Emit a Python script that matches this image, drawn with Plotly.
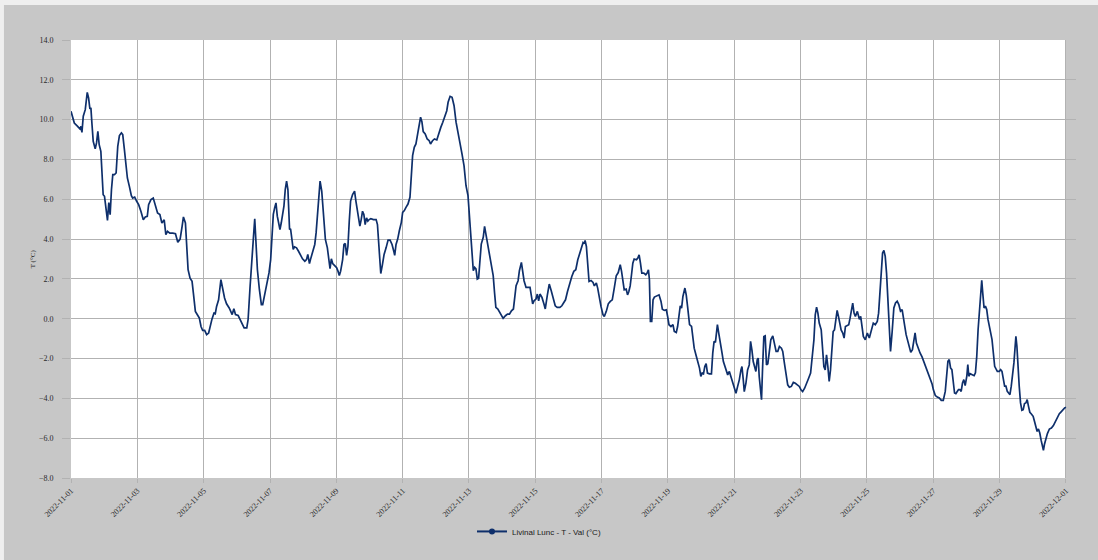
import pandas as pd
import plotly.graph_objects as go

# Hourly-ish temperature record, Livinal Lunc station, November 2022
start = pd.Timestamp("2022-11-01")

# time since start, in days
day_offset = [
    0.00, 0.10, 0.20, 0.27, 0.30, 0.33, 0.37, 0.43, 0.49, 0.53, 0.57, 0.60, 0.63, 0.67, 0.73, 0.77,
    0.81, 0.85, 0.90, 0.93, 0.97, 1.01, 1.06, 1.10, 1.14, 1.18, 1.22, 1.26, 1.31, 1.36, 1.41, 1.46,
    1.52, 1.56, 1.61, 1.66, 1.70, 1.76, 1.82, 1.86, 1.92, 1.98, 2.04, 2.11, 2.18, 2.24, 2.30, 2.34,
    2.41, 2.48, 2.54, 2.61, 2.68, 2.74, 2.81, 2.86, 2.91, 2.98, 3.07, 3.15, 3.22, 3.29, 3.35, 3.39,
    3.45, 3.49, 3.53, 3.59, 3.65, 3.69, 3.75, 3.81, 3.87, 3.92, 3.97, 4.03, 4.09, 4.15, 4.19, 4.25,
    4.31, 4.35, 4.39, 4.45, 4.52, 4.57, 4.63, 4.69, 4.77,
    4.86, 4.91, 4.96, 5.04, 5.10, 5.17, 5.22, 5.30, 5.34, 5.40, 5.46, 5.50, 5.54, 5.58, 5.62, 5.68,
    5.74, 5.78, 5.84, 5.90, 5.97, 6.02, 6.06, 6.10, 6.14, 6.18, 6.22, 6.26, 6.30, 6.34, 6.38, 6.42,
    6.46, 6.50, 6.54, 6.59, 6.62, 6.66, 6.70, 6.74, 6.80, 6.86, 6.92, 6.98, 7.05, 7.10, 7.14, 7.19,
    7.22, 7.29, 7.35, 7.39, 7.43, 7.47, 7.51, 7.56, 7.61, 7.67, 7.73, 7.78, 7.81, 7.85, 7.89, 7.95,
    8.01, 8.05, 8.09, 8.13, 8.19, 8.23, 8.27, 8.31, 8.35, 8.39, 8.43, 8.49, 8.55, 8.59, 8.63, 8.67,
    8.71, 8.75, 8.79, 8.83, 8.87, 8.91, 8.95, 8.99, 9.04, 9.12, 9.20, 9.24, 9.28, 9.32, 9.34, 9.39,
    9.44, 9.50, 9.56, 9.62, 9.68, 9.74, 9.76, 9.80,
    9.85, 9.90, 9.96, 10.00, 10.05, 10.10, 10.16, 10.22, 10.26, 10.30, 10.35, 10.40, 10.46, 10.50,
    10.54, 10.58, 10.62, 10.68, 10.74, 10.80, 10.84, 10.90, 10.96, 11.03, 11.09, 11.15, 11.21, 11.27,
    11.33, 11.37, 11.43, 11.49, 11.55, 11.61, 11.67, 11.73, 11.79, 11.85, 11.91, 11.97, 12.01, 12.05,
    12.09, 12.13, 12.17, 12.21, 12.25, 12.29, 12.33, 12.37, 12.43, 12.47, 12.51, 12.57, 12.63, 12.69,
    12.73, 12.77, 12.81, 12.87, 12.93, 12.99, 13.03, 13.10, 13.16, 13.22, 13.28, 13.34, 13.38, 13.42,
    13.48, 13.52, 13.58, 13.62, 13.66, 13.72, 13.78, 13.84, 13.88, 13.92, 13.96, 14.02, 14.06, 14.10,
    14.14, 14.20, 14.26, 14.30, 14.36, 14.42, 14.48, 14.54, 14.60, 14.66, 14.74, 14.80,
    14.91, 14.97, 15.03, 15.10, 15.16, 15.22, 15.28, 15.34, 15.40, 15.44, 15.48, 15.50, 15.54, 15.58,
    15.62, 15.68, 15.74, 15.78, 15.84, 15.88, 15.92, 15.98, 16.04, 16.08, 16.14, 16.20, 16.26, 16.32,
    16.38, 16.44, 16.50, 16.56, 16.60, 16.64, 16.68, 16.74, 16.78, 16.82, 16.86, 16.90, 16.94, 16.98,
    17.05, 17.09, 17.13, 17.17, 17.21, 17.27, 17.33, 17.37, 17.41, 17.44, 17.45, 17.47, 17.51, 17.55,
    17.59, 17.65, 17.73, 17.79, 17.83, 17.89, 17.95, 17.99, 18.03, 18.09, 18.15, 18.19, 18.25, 18.29,
    18.33, 18.37, 18.41, 18.45, 18.51, 18.55, 18.59, 18.65, 18.71, 18.75, 18.79, 18.85, 18.91, 18.95,
    18.99, 19.03, 19.07, 19.11, 19.15, 19.19, 19.25, 19.31, 19.35, 19.39, 19.43, 19.47, 19.49, 19.53,
    19.57, 19.63, 19.67, 19.71,
    19.75, 19.80, 19.85, 19.90, 19.95, 20.00, 20.05, 20.10, 20.15, 20.20, 20.23, 20.27, 20.30, 20.35,
    20.40, 20.45, 20.49, 20.53, 20.57, 20.61, 20.65, 20.69, 20.72, 20.75, 20.79, 20.82, 20.85, 20.89,
    20.93, 20.97, 21.01, 21.06, 21.10, 21.16, 21.21, 21.26, 21.31, 21.36, 21.42, 21.46, 21.51, 21.56,
    21.61, 21.66, 21.72, 21.78, 21.84, 21.90, 21.96, 22.01, 22.06, 22.12, 22.18, 22.24, 22.30, 22.36,
    22.40, 22.44, 22.48, 22.52, 22.56, 22.62, 22.66, 22.70, 22.74, 22.78, 22.82, 22.86, 22.90, 22.94,
    22.98, 23.02, 23.06, 23.10, 23.14, 23.18, 23.22, 23.27, 23.31, 23.35, 23.39, 23.45, 23.49, 23.53,
    23.57, 23.61, 23.65, 23.71, 23.77, 23.81, 23.85, 23.89, 23.95, 24.01, 24.07, 24.13, 24.19, 24.25,
    24.31, 24.35, 24.39, 24.43, 24.47, 24.51, 24.55, 24.59, 24.63, 24.67, 24.71,
    24.76, 24.81, 24.86, 24.91, 24.96, 25.01, 25.06, 25.10, 25.14, 25.18, 25.22, 25.27, 25.32, 25.37,
    25.42, 25.45, 25.49, 25.54, 25.60, 25.66, 25.72, 25.78, 25.84, 25.90, 25.96, 26.00, 26.06, 26.12,
    26.18, 26.24, 26.30, 26.36, 26.40, 26.44, 26.48, 26.52, 26.56, 26.60, 26.64, 26.68, 26.72, 26.76,
    26.80, 26.84, 26.88, 26.92, 26.96, 27.01, 27.04, 27.07, 27.11, 27.17, 27.23, 27.27, 27.31, 27.35,
    27.39, 27.43, 27.46, 27.49, 27.53, 27.57, 27.61, 27.65, 27.69, 27.73, 27.77, 27.81, 27.85, 27.89,
    27.93, 27.99, 28.03, 28.07, 28.11, 28.15, 28.19, 28.23, 28.27, 28.31, 28.35, 28.39, 28.43, 28.46,
    28.49, 28.52, 28.55, 28.59, 28.63, 28.67, 28.71, 28.75, 28.79, 28.83, 28.87, 28.91, 28.95, 29.01,
    29.05, 29.09, 29.13, 29.17, 29.21, 29.25, 29.29, 29.32, 29.35, 29.40, 29.44, 29.50, 29.56, 29.62,
    29.68, 29.74, 29.80, 29.84, 29.90, 29.96, 30.00,
]

# air temperature, degrees Celsius
temp_c = [
    10.42, 9.83, 9.66, 9.53, 9.66, 9.36, 10.17, 10.50, 11.37, 11.09, 10.54, 10.59, 9.83, 8.91, 8.53, 8.83,
    9.41, 8.74, 8.41, 7.32, 6.23, 6.15, 5.56, 4.94, 5.83, 5.23, 6.48, 7.24, 7.24, 7.32, 8.66, 9.20,
    9.33, 9.25, 8.49, 7.65, 7.07, 6.65, 6.18, 6.06, 6.11, 5.90, 5.73, 5.39, 4.97, 5.11, 5.14, 5.73,
    5.98, 6.06, 5.73, 5.31, 5.23, 4.81, 4.97, 4.22, 4.39, 4.30, 4.30, 4.27, 3.84, 4.00, 4.64, 5.11,
    4.81, 3.63, 2.46, 2.04, 1.88, 1.29, 0.37, 0.20, 0.03, -0.39, -0.59, -0.59, -0.80, -0.72, -0.39, -0.02,
    0.28, 0.25, 0.62, 0.95, 1.96, 1.54, 1.04, 0.75, 0.54,
    0.21, 0.50, 0.21, 0.16, -0.04, -0.29, -0.46, -0.46, -0.04, 1.63, 3.48, 4.06, 5.02, 3.64, 2.47, 1.47,
    0.71, 0.71, 1.22, 1.80, 2.30, 2.97, 4.31, 5.24, 5.57, 5.82, 5.15, 4.82, 4.48, 4.82, 5.15, 5.65,
    6.49, 6.91, 6.49, 4.48, 4.52, 3.98, 3.48, 3.61, 3.56, 3.39, 3.18, 3.01, 2.89, 2.97, 3.23, 2.77,
    2.97, 3.39, 3.73, 4.31, 5.32, 6.32, 6.91, 6.41, 5.40, 3.98, 3.56, 3.01, 2.51, 3.01, 2.77, 2.67,
    2.56, 2.39, 2.17, 2.39, 2.97, 3.73, 3.78, 3.18, 3.64, 4.90, 5.91, 6.24, 6.41, 5.91, 5.49, 4.98,
    4.65, 4.98, 5.40, 5.24, 4.73, 5.07, 4.90, 4.98, 5.02, 4.98, 4.98, 4.73, 3.64, 2.64, 2.27, 2.72,
    3.23, 3.56, 3.95, 3.95, 3.73, 3.34, 3.18, 3.73,
    4.00, 4.42, 4.84, 5.34, 5.43, 5.59, 5.76, 6.10, 7.02, 8.19, 8.61, 8.78, 9.36, 9.70,
    10.12, 9.90, 9.40, 9.28, 9.03, 8.94, 8.78, 8.94, 9.03, 8.98, 9.36, 9.61, 9.87, 10.20,
    10.45, 10.87, 11.17, 11.12, 10.70, 9.87, 9.36, 8.94, 8.27, 7.69, 6.68, 6.18, 5.34, 4.34,
    3.33, 2.41, 2.58, 2.50, 1.99, 2.03, 2.91, 3.75, 4.09, 4.64, 4.25, 3.67, 3.08, 2.50,
    2.16, 1.32, 0.57, 0.49, 0.32, 0.15, 0.02, 0.15, 0.23, 0.23, 0.40, 0.49, 0.99, 1.66,
    1.91, 2.41, 2.83, 2.41, 1.91, 1.57, 1.57, 1.57, 1.16, 0.74, 0.90, 0.99, 1.24, 0.90,
    1.24, 1.07, 0.74, 0.49, 1.16, 1.74, 1.41, 0.99, 0.65, 0.57, 0.57, 0.65,
    0.95, 1.37, 1.79, 2.12, 2.38, 2.46, 2.96, 3.30, 3.63, 3.83, 3.77, 3.93, 3.63, 2.79,
    1.87, 1.92, 1.82, 1.65, 1.79, 1.54, 1.12, 0.62, 0.20, 0.11, 0.37, 0.75, 0.87, 0.95,
    1.54, 2.16, 2.32, 2.71, 2.38, 1.87, 1.45, 1.49, 1.20, 1.37, 1.65, 2.21, 2.79, 3.00,
    2.96, 3.05, 3.21, 2.79, 2.29, 2.29, 2.21, 2.29, 2.46, 1.96, 0.95, -0.14, -0.14, 0.95,
    1.09, 1.15, 1.20, 0.87, 0.48, 0.42, 0.45, 0.11, -0.30, -0.39, -0.30, -0.64, -0.69, -0.39,
    0.20, 0.65, 0.53, 1.12, 1.54, 1.20, 0.62, -0.30, -0.39, -0.89, -1.48, -1.86, -2.23, -2.48,
    -2.90, -2.73, -2.77, -2.40, -2.26, -2.73, -2.77, -2.77, -1.73, -1.14, -1.19, -0.64, -0.30, -0.72,
    -1.23, -1.73, -2.15, -2.40,
    -2.57, -2.82, -2.65, -2.90, -3.15, -3.40, -3.74, -3.40, -3.07, -2.57, -2.40, -3.07, -3.66, -3.24,
    -2.57, -2.32, -1.14, -1.56, -2.15, -2.40, -2.65, -2.06, -1.98, -2.90, -3.57, -4.07, -2.57, -0.89,
    -0.86, -2.32, -2.26, -1.56, -1.06, -0.86, -1.31, -1.64, -1.64, -1.39, -1.48, -1.64, -2.23, -2.90,
    -3.32, -3.44, -3.40, -3.20, -3.24, -3.32, -3.40, -3.57, -3.66, -3.49, -3.27, -2.99, -2.73, -1.90,
    -1.06, 0.20, 0.58, 0.28, -0.22, -0.56, -1.39, -2.40, -2.57, -1.81, -2.40, -3.15, -2.57, -1.56,
    -0.64, -0.56, 0.12, 0.42, 0.12, -0.30, -0.56, -0.72, -0.97, -0.39, -0.36, -0.30, 0.03, 0.45,
    0.78, 0.28, 0.12, 0.37, -0.03, 0.12, -0.39, -0.89, -1.06, -0.72, -0.97, -0.64, -0.22, -0.30,
    -0.14, 0.28, 1.37, 2.46, 3.30, 3.43, 3.13, 2.29, 1.12, -0.39, -1.64,
    -0.63, 0.54, 0.79, 0.88, 0.71, 0.38, 0.46, 0.12, -0.38, -0.80, -1.05, -1.38, -1.69, -1.55,
    -1.05, -0.71, -1.22, -1.47, -1.72, -1.92, -2.19, -2.47, -2.72, -2.97, -3.26, -3.56, -3.86, -3.93,
    -3.98, -4.10, -4.10, -3.65, -2.81, -2.14, -2.05, -2.47, -2.56, -3.06, -3.73, -3.76, -3.65, -3.56,
    -3.56, -3.65, -3.23, -3.06, -3.36, -2.89, -2.30, -2.89, -2.76, -2.81, -2.86, -2.72, -1.89, -0.55,
    0.46, 1.21, 1.93, 1.30, 0.54, 0.63, 0.46, -0.05, -0.41, -0.63, -1.05, -1.72, -2.39, -2.52,
    -2.64, -2.64, -2.56, -2.64, -3.06, -3.39, -3.39, -3.65, -3.73, -3.81, -3.39, -2.89, -2.22, -1.55,
    -0.88, -1.38, -2.39, -3.39, -4.23, -4.60, -4.57, -4.26, -4.23, -4.06, -4.40, -4.70, -4.77, -4.90,
    -5.15, -5.40, -5.66, -5.54, -5.74, -6.10, -6.38, -6.61, -6.32, -5.99, -5.77, -5.54, -5.49, -5.37,
    -5.15, -4.93, -4.77, -4.70, -4.57, -4.48, -4.45,
]

series_name = "Livinal Lunc - T - Val (°C)"
y_ticks = [-8, -6, -4, -2, 0, 2, 4, 6, 8, 10, 12, 14]
x_ticks = pd.date_range("2022-11-01", "2022-12-01", freq="2D")

times = start + pd.to_timedelta(day_offset, unit="D")

LINE = "#0e2f6b"
GRID = "#b2b2b2"
FRAME = "#c7c7c7"
TEXT = "#2a2a2a"

# the grid runs a little past the last day, like the original viewer
x_end = pd.Timestamp("2022-12-01") + pd.Timedelta(hours=7.25)

fig = go.Figure()
fig.add_trace(go.Scatter(
    x=times, y=temp_c, mode="lines", name=series_name,
    line=dict(color=LINE, width=1.7), showlegend=False, legendgroup="t",
))
# legend entry with a dot on the line
fig.add_trace(go.Scatter(
    x=[None], y=[None], mode="lines+markers", name=series_name,
    line=dict(color=LINE, width=2), marker=dict(color=LINE, size=6),
    legendgroup="t",
))

fig.update_layout(
    width=1098, height=560,
    margin=dict(l=71, r=22, t=40, b=82),
    paper_bgcolor=FRAME,
    plot_bgcolor="white",
    showlegend=True,
    legend=dict(
        orientation="h", x=0.399, xanchor="left", y=-0.122, yanchor="middle",
        font=dict(family="Liberation Sans", size=8, color="#1a1a1a"),
        bgcolor="rgba(0,0,0,0)", itemwidth=30,
    ),
    xaxis=dict(
        type="date", range=[start, x_end],
        tickvals=x_ticks, ticktext=[d.strftime("%Y-%m-%d") for d in x_ticks],
        tickangle=-45, showgrid=True, gridcolor=GRID, gridwidth=1,
        ticks="outside", ticklen=4, tickcolor=GRID,
        tickfont=dict(family="Liberation Serif", size=8, color=TEXT),
        zeroline=False, showline=False, fixedrange=True,
    ),
    yaxis=dict(
        range=[-8, 14], tickvals=y_ticks, tickformat=".1f",
        showgrid=True, gridcolor=GRID, gridwidth=1,
        ticks="outside", ticklen=8, tickcolor=GRID, ticklabelstandoff=7,
        tickfont=dict(family="Liberation Serif", size=8, color=TEXT),
        zeroline=False, showline=False, fixedrange=True,
    ),
    shapes=[
        # strip past the last day is part of the grey frame
        dict(type="rect", xref="x", yref="paper", x0="2022-12-01", x1=x_end, y0=0, y1=1,
             fillcolor=FRAME, line=dict(width=0), layer="below"),
        # thin light border along the top and left edge of the page
        dict(type="rect", xref="paper", yref="paper", x0=-0.075, x1=1.03, y0=1.0799, y1=1.1,
             fillcolor="#efefef", line=dict(width=0), layer="below"),
        dict(type="rect", xref="paper", yref="paper", x0=-0.075, x1=-0.0667, y0=-0.2, y1=1.1,
             fillcolor="#efefef", line=dict(width=0), layer="below"),
    ],
    annotations=[
        dict(text="T (°C)", xref="paper", yref="paper", x=-0.0375, y=0.5,
             xanchor="center", yanchor="middle", textangle=-90, showarrow=False,
             font=dict(family="Liberation Serif", size=7, color=TEXT)),
    ],
)

fig.write_html("out.html", config={"displayModeBar": False})
